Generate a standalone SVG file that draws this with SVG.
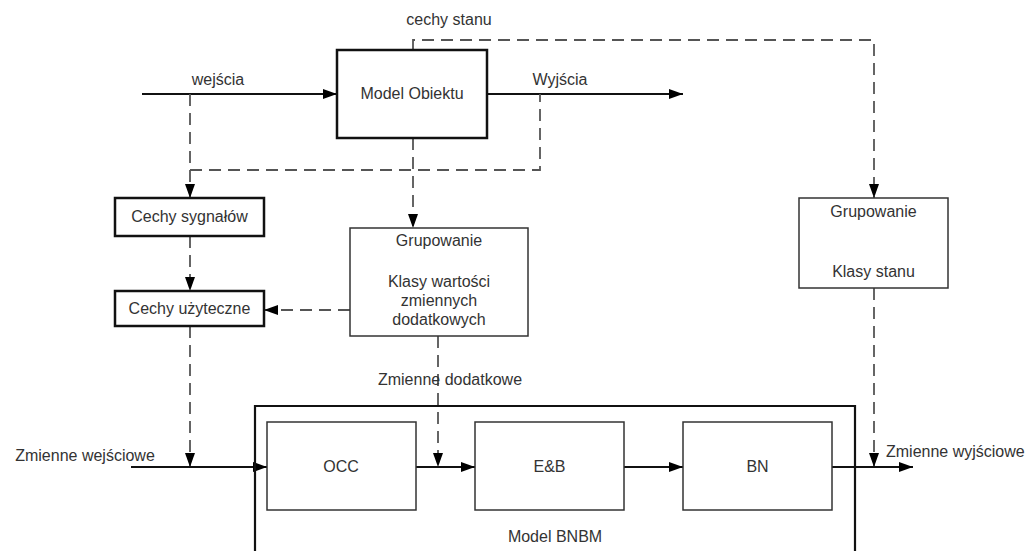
<svg xmlns="http://www.w3.org/2000/svg" width="1032" height="551" viewBox="0 0 1032 551">
<style>
text{font-family:"Liberation Sans",Arial,sans-serif;font-size:16px;fill:#333;}
.c{text-anchor:middle;}
.thick{fill:#fff;stroke:#111;stroke-width:2.5;}
.thin{fill:#fff;stroke:#333;stroke-width:1.5;}
.solid{fill:none;stroke:#111;stroke-width:1.8;}
.dash{fill:none;stroke:#555;stroke-width:1.8;stroke-dasharray:12 7;}
</style>
<defs>
<marker id="ah" viewBox="0 0 14 10" refX="14" refY="5" markerWidth="14" markerHeight="10" markerUnits="userSpaceOnUse" orient="auto">
<path d="M0,0 L14,5 L0,10 Z" fill="#000"/>
</marker>
</defs>
<rect width="1032" height="551" fill="#fff"/>
<g id="connectors">
<path class="solid" d="M142,94 H337" marker-end="url(#ah)"/>
<path class="solid" d="M487,94 H683" marker-end="url(#ah)"/>
<path class="dash" d="M190,94 V198" marker-end="url(#ah)"/>
<path class="dash" d="M190,170 H540 V94"/>
<path class="dash" d="M413,138 V228" marker-end="url(#ah)"/>
<path class="dash" d="M413,50 V40 H874 V198" marker-end="url(#ah)"/>
<path class="dash" d="M190,236 V291" marker-end="url(#ah)"/>
<path class="dash" d="M350,310 H264" marker-end="url(#ah)"/>
<path class="dash" d="M190,326 V467" marker-end="url(#ah)"/>
<path class="dash" d="M438,336 V467" marker-end="url(#ah)"/>
<path class="dash" d="M874,288 V467" marker-end="url(#ah)"/>
<path class="solid" d="M131,467 H267" marker-end="url(#ah)"/>
<path class="solid" d="M416,467 H475" marker-end="url(#ah)"/>
<path class="solid" d="M624,467 H683" marker-end="url(#ah)"/>
<path class="solid" d="M832,467 H913" marker-end="url(#ah)"/>
<text x="218" y="85" class="c">wejścia</text>
<text x="560" y="85" class="c">Wyjścia</text>
<text x="449" y="25" class="c">cechy stanu</text>
<text x="450" y="385" class="c">Zmienne dodatkowe</text>
<text x="85" y="461" class="c">Zmienne wejściowe</text>
<text x="886" y="457">Zmienne wyjściowe</text>
</g>
<g id="model-bnbm">
<path fill="none" stroke="#111" stroke-width="2.2" d="M255,551 V406 H855 V551"/>
<text x="555" y="542" class="c">Model BNBM</text>
</g>
<g id="model-obiektu">
<rect class="thick" x="337" y="50" width="150" height="88"/>
<text x="412" y="99" class="c">Model Obiektu</text>
</g>
<g id="cechy-sygnalow">
<rect class="thick" x="115" y="198" width="149" height="38"/>
<text x="189.5" y="222" class="c">Cechy sygnałów</text>
</g>
<g id="cechy-uzyteczne">
<rect class="thick" x="115" y="291" width="149" height="35"/>
<text x="189.5" y="314" class="c">Cechy użyteczne</text>
</g>
<g id="grupowanie-klasy-wartosci">
<rect class="thin" x="350" y="228" width="178" height="108"/>
<text x="439" y="246" class="c">Grupowanie</text>
<text x="439" y="287" class="c">Klasy wartości</text>
<text x="439" y="305.5" class="c">zmiennych</text>
<text x="439" y="325" class="c">dodatkowych</text>
</g>
<g id="grupowanie-klasy-stanu">
<rect class="thin" x="799" y="198" width="149" height="90"/>
<text x="873.5" y="217" class="c">Grupowanie</text>
<text x="873.5" y="277" class="c">Klasy stanu</text>
</g>
<g id="occ">
<rect class="thin" x="267" y="422" width="149" height="88"/>
<text x="341" y="472" class="c">OCC</text>
</g>
<g id="eb">
<rect class="thin" x="475" y="422" width="149" height="88"/>
<text x="549.5" y="472" class="c">E&amp;B</text>
</g>
<g id="bn">
<rect class="thin" x="683" y="422" width="149" height="88"/>
<text x="757.5" y="472" class="c">BN</text>
</g>
</svg>
